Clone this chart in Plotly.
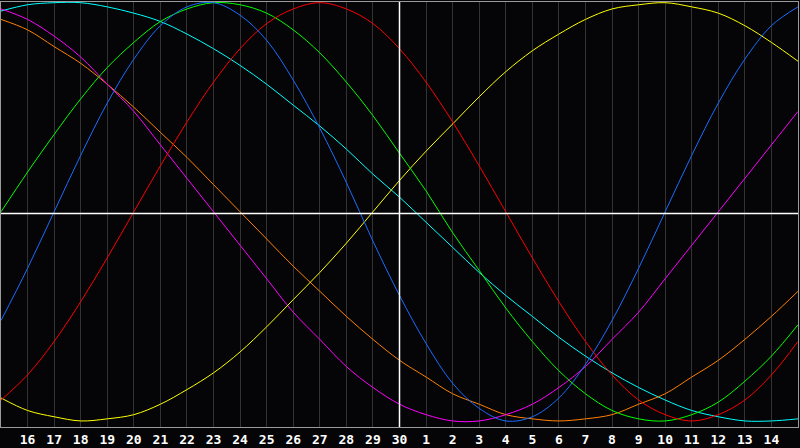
import plotly.graph_objects as go

# day slots across the chart (0..30), labelled slots 1..29
slots = list(range(31))
tick_pos = list(range(1, 30))
tick_labels = [str(d) for d in list(range(16, 31)) + list(range(1, 15))]

# cycle values in percent at each day line
yellow = [-89, -95, -98, -100, -99, -97, -92, -85, -77, -67, -55, -42, -29, -15, 0, 15,
          29, 42, 55, 67, 77, 85, 92, 97, 99, 100, 98, 95, 89, 81, 72]
red = [-90, -78, -62, -43, -22, 0, 22, 43, 62, 78, 90, 97, 100, 97, 90, 78,
       62, 43, 22, 0, -22, -43, -62, -78, -90, -97, -100, -97, -90, -78, -62]
green = [0, 19, 37, 54, 69, 81, 91, 97, 100, 99, 95, 87, 76, 62, 46, 28,
         10, -10, -28, -46, -62, -76, -87, -95, -99, -100, -97, -91, -81, -69, -54]
blue = [-52, -27, 0, 27, 52, 73, 89, 98, 100, 94, 82, 63, 40, 14, -14, -40,
        -63, -82, -94, -100, -98, -89, -73, -52, -27, 0, 27, 52, 73, 89, 98]
cyan = [96, 99, 100, 100, 98, 95, 91, 85, 78, 70, 61, 51, 41, 30, 18, 7,
        -5, -17, -29, -40, -50, -60, -69, -77, -84, -90, -95, -98, -100, -100, -99]
orange = [92, 87, 79, 71, 61, 50, 38, 26, 13, 0, -13, -26, -38, -50, -61, -71,
          -79, -87, -92, -97, -99, -100, -99, -97, -92, -87, -79, -71, -61, -50, -38]
magenta = [97, 92, 84, 74, 61, 48, 32, 16, 0, -16, -32, -48, -61, -74, -84, -92,
           -97, -100, -100, -97, -92, -84, -74, -61, -48, -32, -16, 0, 16, 32, 48]

series = [
    (cyan, '#00ffff'),
    (orange, '#ff8000'),
    (magenta, '#ff00ff'),
    (yellow, '#ffff00'),
    (green, '#00ff00'),
    (red, '#ff0000'),
    (blue, '#1a6cff'),
]

fig = go.Figure()
for vals, col in series:
    fig.add_trace(go.Scatter(
        x=slots, y=vals, mode='lines',
        line=dict(color=col, width=1, shape='spline', smoothing=1),
        hoverinfo='skip', showlegend=False
    ))

# today line and zero line
fig.add_shape(type='line', x0=15, x1=15, y0=0, y1=1, xref='x', yref='paper',
              line=dict(color='white', width=1.5), layer='above')
fig.add_shape(type='line', x0=0, x1=1, y0=-0.8, y1=-0.8, xref='paper', yref='y',
              line=dict(color='white', width=1.5), layer='above')

fig.update_layout(
    width=800, height=448,
    margin=dict(l=1, r=1, t=1, b=19),
    paper_bgcolor='#050507',
    plot_bgcolor='#050507',
    xaxis=dict(range=[0, 30], tickvals=tick_pos, ticktext=tick_labels,
               showgrid=True, gridcolor='#333333', gridwidth=1, zeroline=False,
               showline=True, mirror=True, linecolor='#9a9a9a', linewidth=1,
               ticks='', ticklen=0,
               tickfont=dict(family='DejaVu Sans Mono', size=13, color='white', weight='bold')),
    yaxis=dict(range=[-102.9, 100.33], showgrid=False, zeroline=False,
               showticklabels=False, showline=True, mirror=True,
               linecolor='#9a9a9a', linewidth=1),
)

# drop the default page margin so the chart sits at the window corner
fig.write_html("out.html", config={'displayModeBar': False},
               post_script="document.body.style.margin='0';")
